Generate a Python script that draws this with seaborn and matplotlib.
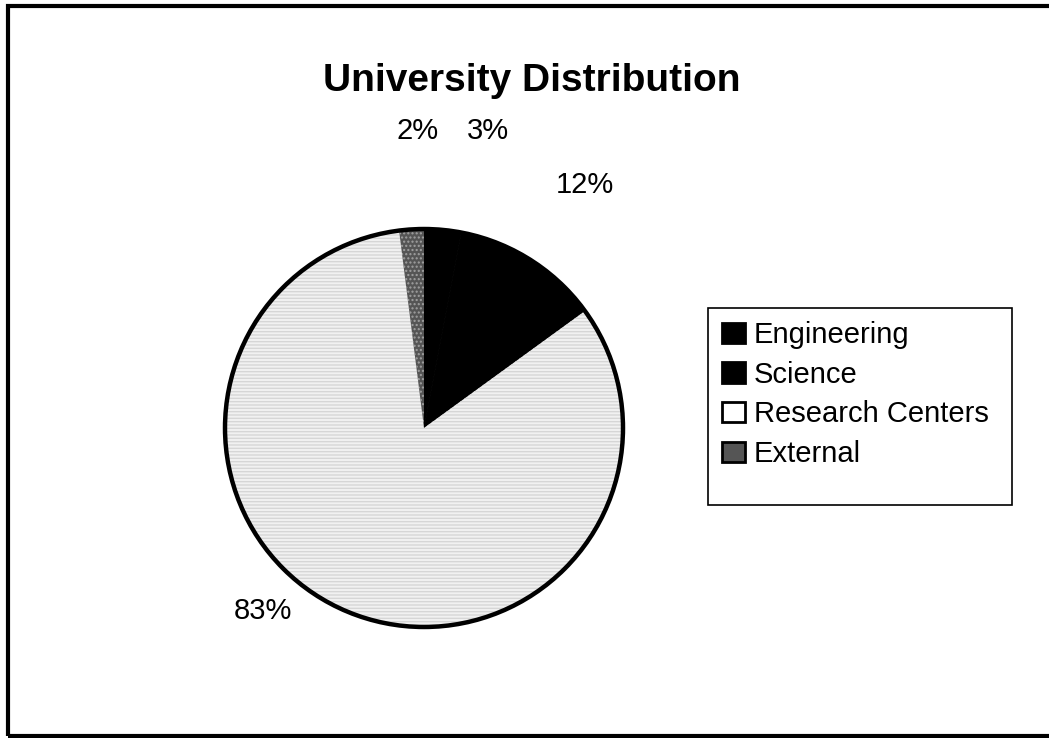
import matplotlib
matplotlib.use("Agg")
import matplotlib.pyplot as plt
import seaborn as sns
from matplotlib.patches import Rectangle, Circle

# ---- data ----
categories = ["Engineering", "Science", "Research Centers", "External"]
shares = [3, 12, 83, 2]
pct_labels = ["3%", "12%", "83%", "2%"]

# ---- style ----
colors = ["#000000", "#000000", "#f1f1f1", "#555555"]
legend_colors = ["#000000", "#000000", "#ffffff", "#555555"]
label_xy = [(0.32, 1.49), (0.81, 1.22), (-0.81, -0.92), (-0.03, 1.49)]

sns.set_theme(style="white")
plt.rcParams["font.family"] = ["Liberation Sans", "DejaVu Sans"]
plt.rcParams["text.color"] = "black"

W, H = 1049, 738
fig = plt.figure(figsize=(W / 100, H / 100), dpi=100)

# outer frame
fig.patches.append(Rectangle((8 / W, 2 / H), 1.2, 1 - 8 / H, transform=fig.transFigure,
                             fill=False, edgecolor="black", linewidth=3, zorder=10))

cx, cy, r = 424, 428, 199
ax = fig.add_axes([(cx - r * 1.6) / W, (H - cy - r * 1.6) / H, 3.2 * r / W, 3.2 * r / H])

wedges, _ = ax.pie(shares, colors=colors, startangle=90, counterclock=False,
                   wedgeprops=dict(linewidth=0), radius=1.0)
ax.set_xlim(-1.6, 1.6)
ax.set_ylim(-1.6, 1.6)
ax.set_aspect("equal")
ax.axis("off")

for w, c in zip(wedges, colors):
    w.set_edgecolor(c)
    w.set_linewidth(0.6)
# dither-like texture on Research Centers / External
wedges[2].set_hatch("-----")
wedges[2].set_edgecolor("#d6d6d6")
wedges[2].set_linewidth(0)
wedges[3].set_hatch("....")
wedges[3].set_edgecolor("#a0a0a0")
wedges[3].set_linewidth(0)

ax.add_patch(Circle((0, 0), 1.0, fill=False, edgecolor="black", linewidth=3.2, zorder=5))

for (x, y), t in zip(label_xy, pct_labels):
    ax.text(x, y, t, ha="center", va="center", fontsize=21, color="black")

fig.text(532 / W, 1 - 81 / H, "University Distribution", ha="center", va="center",
         fontsize=28, fontweight="bold", color="black")

# legend box (drawn separately to match the padding of the original)
fig.patches.append(Rectangle((708 / W, 1 - 505 / H), 304 / W, 197 / H, transform=fig.transFigure,
                             fill=False, edgecolor="black", linewidth=1.2, zorder=9))
leg = fig.legend(wedges, categories, loc="upper left",
                 bbox_to_anchor=(722 / W, 1 - 321 / H), frameon=False,
                 fontsize=21, handlelength=0.8, handleheight=0.7, handletextpad=0.3,
                 labelspacing=0.4, borderpad=0.0, borderaxespad=0, labelcolor="black")
for h, c in zip(leg.legend_handles, legend_colors):
    h.set_hatch(None)
    h.set_facecolor(c)
    h.set_edgecolor("black")
    h.set_linewidth(2)

fig.savefig("out.png", dpi=100, facecolor="white")
